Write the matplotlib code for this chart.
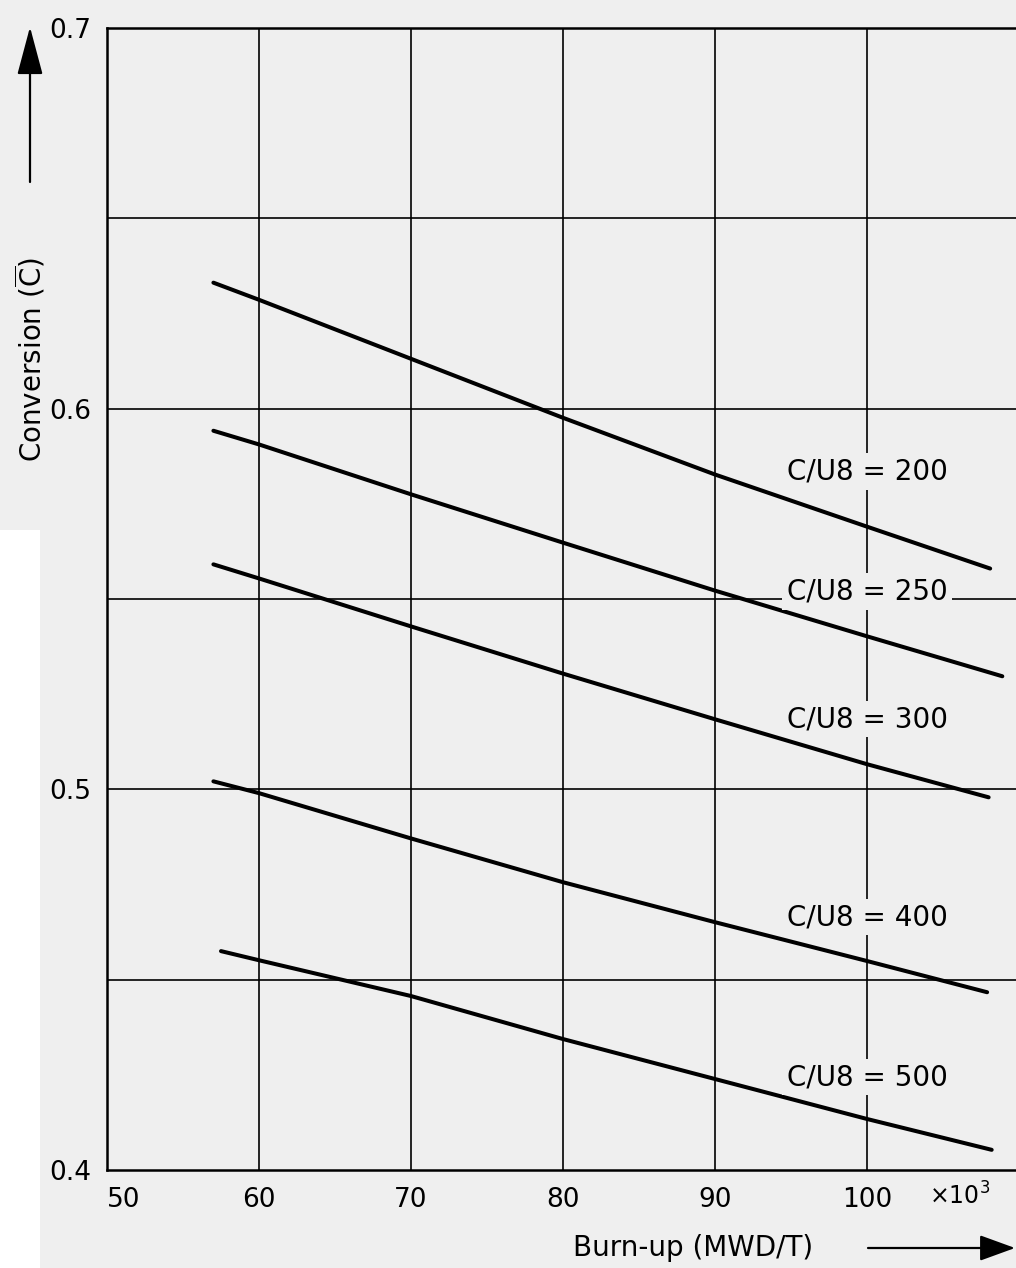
import matplotlib
matplotlib.use("Agg")
import matplotlib.pyplot as plt
from matplotlib.patches import FancyArrowPatch, Rectangle

# Data (burn-up in 10^3 MWD/T, conversion C-bar)
burnup_200 = [57.0, 60, 70, 80, 90, 100, 108.1]
cu200 = [0.6331, 0.6286, 0.6131, 0.5976, 0.5827, 0.5690, 0.5580]
burnup_250 = [57.0, 60, 70, 80, 90, 100, 108.9]
cu250 = [0.5942, 0.5906, 0.5775, 0.5648, 0.5522, 0.5402, 0.5297]
burnup_300 = [57.0, 60, 70, 80, 90, 100, 108.0]
cu300 = [0.5591, 0.5554, 0.5428, 0.5304, 0.5184, 0.5066, 0.4979]
burnup_400 = [57.0, 60, 70, 80, 90, 100, 107.9]
cu400 = [0.5021, 0.4990, 0.4871, 0.4756, 0.4651, 0.4549, 0.4467]
burnup_500 = [57.5, 60, 70, 80, 90, 100, 108.2]
cu500 = [0.4575, 0.4551, 0.4457, 0.4344, 0.4239, 0.4134, 0.4053]

labels = ["C/U8 = 200", "C/U8 = 250", "C/U8 = 300", "C/U8 = 400", "C/U8 = 500"]
label_y = [0.5835, 0.5520, 0.5184, 0.4664, 0.4244]
label_x = 100.0

xticks = [50, 60, 70, 80, 90, 100]
yticks = [0.4, 0.5, 0.6, 0.7]
ygrid = [0.45, 0.55, 0.65]

series = [(burnup_200, cu200), (burnup_250, cu250), (burnup_300, cu300),
          (burnup_400, cu400), (burnup_500, cu500)]

bg = "#efefef"
fig = plt.figure(figsize=(10.16, 12.68), dpi=100, facecolor=bg)
fig.patches.append(Rectangle((0, 0), 40/1016, 1-530/1268, transform=fig.transFigure,
                             facecolor="white", edgecolor="none", zorder=-1))
ax = fig.add_axes([107/1016, 1-1170/1268, 1-107/1016, (1170-28)/1268])
ax.set_facecolor(bg)

ax.set_xlim(50, 109.8)
ax.set_ylim(0.4, 0.7)
for x in xticks[1:]:
    ax.axvline(x, color="black", lw=1.2, zorder=1)
for y in yticks[1:-1] + ygrid:
    ax.axhline(y, color="black", lw=1.2, zorder=1)

for (xs, ys), lab, ly in zip(series, labels, label_y):
    ax.plot(xs, ys, color="black", lw=2.9, zorder=3, solid_capstyle="round")
    ax.text(label_x, ly, lab, ha="center", va="center", fontsize=20,
            zorder=4, bbox=dict(facecolor=bg, edgecolor="none", pad=3))

for s in ["left", "bottom", "top"]:
    ax.spines[s].set_linewidth(1.8)
ax.spines["right"].set_visible(False)

ax.set_xticks(xticks)
ax.set_xticklabels([str(v) for v in xticks], fontsize=19)
ax.set_yticks(yticks)
ax.set_yticklabels([str(v) for v in yticks], fontsize=19)
ax.tick_params(length=0)
ax.tick_params(axis="y", pad=11)
ax.tick_params(axis="x", pad=12)
ax.get_xticklabels()[0].set_horizontalalignment("left")

fig.text(960/1016, 1-1196/1268, r"$\times10^3$", fontsize=17, ha="center", va="center")

fig.text(693/1016, 1-1248/1268, "Burn-up (MWD/T)", fontsize=20, ha="center", va="center")
fig.patches.append(FancyArrowPatch(
    (868/1016, 1-1248/1268), (1015/1016, 1-1248/1268), transform=fig.transFigure,
    arrowstyle="-|>,head_length=22,head_width=8", color="black", lw=1.6,
    mutation_scale=1, shrinkA=0, shrinkB=0))

fig.text(30/1016, 1-360/1268, r"Conversion ($\overline{\mathrm{C}}$)", fontsize=20,
         ha="center", va="center", rotation=90)
fig.patches.append(FancyArrowPatch(
    (30/1016, 1-182/1268), (30/1016, 1-27/1268), transform=fig.transFigure,
    arrowstyle="-|>,head_length=30,head_width=8", color="black", lw=1.6,
    mutation_scale=1, shrinkA=0, shrinkB=0))

fig.savefig("out.png", dpi=100, facecolor=bg)
